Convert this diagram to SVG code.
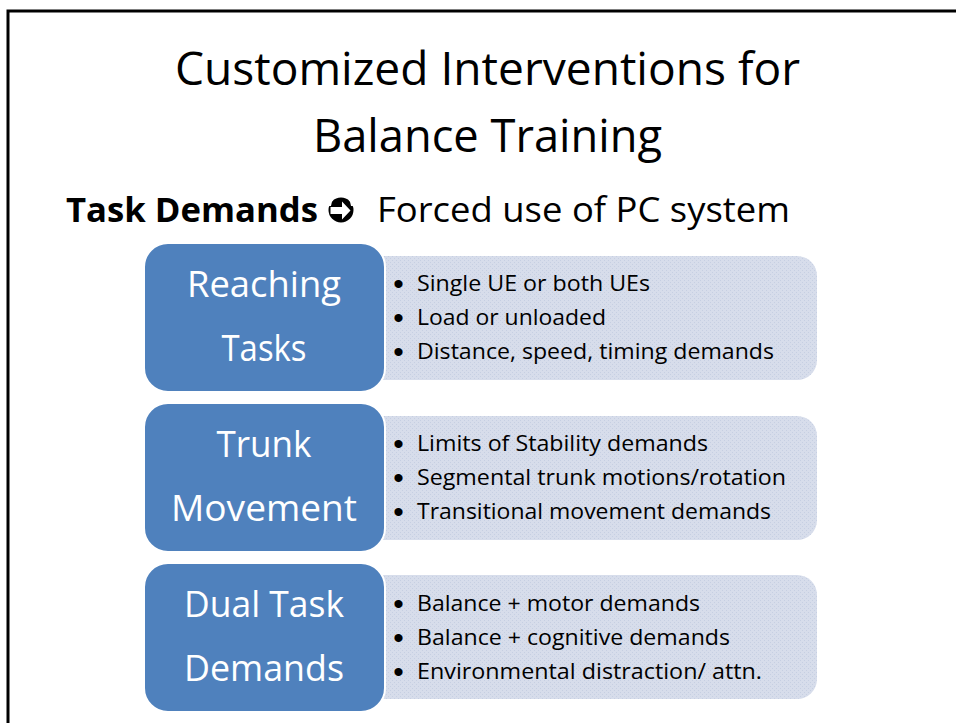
<svg xmlns="http://www.w3.org/2000/svg" width="956" height="723" viewBox="0 0 956 723">
<defs>
<pattern id="dots" width="4" height="4" patternUnits="userSpaceOnUse">
<rect width="4" height="4" fill="#D7DDEB"/>
<rect x="0" y="0" width="1" height="1" fill="#C6CFE2"/>
<rect x="2" y="2" width="1" height="1" fill="#C6CFE2"/>
</pattern>
</defs>
<style>
.title{font-family:"Open Sans","Noto Sans","Liberation Sans",sans-serif;font-size:45px;fill:#000;text-anchor:middle}
.sub{font-family:"Open Sans","Noto Sans","Liberation Sans",sans-serif;font-size:34px;fill:#000}
.head{font-family:"Open Sans","Noto Sans","Liberation Sans",sans-serif;font-size:36px;fill:#fff;text-anchor:middle}
.item{font-family:"Open Sans","Noto Sans","Liberation Sans",sans-serif;font-size:21px;fill:#000}
.bul{font-family:"Liberation Sans",sans-serif;font-size:30px;fill:#000;text-anchor:middle}
.blue{fill:#4F81BD;stroke:#fff;stroke-width:2}
.light{fill:url(#dots)}
.frame{stroke:#000;stroke-width:3;fill:none}
</style>
<rect width="956" height="723" fill="#fff"/>
<path class="frame" d="M8 723 V11 H956"/>
<g id="title">
<text class="title" x="487.5" y="85" textLength="625" lengthAdjust="spacingAndGlyphs">Customized Interventions for</text>
<text class="title" x="487.5" y="152" textLength="349" lengthAdjust="spacingAndGlyphs">Balance Training</text>
</g>
<g id="subheading">
<text class="sub" x="66" y="222" font-weight="bold" textLength="252" lengthAdjust="spacingAndGlyphs">Task Demands</text>
<g id="arrow-symbol">
<circle cx="341" cy="210" r="12.5" fill="#000"/>
<path d="M330 206 A11 11 0 0 1 352 206" fill="none" stroke="#fff" stroke-width="2"/>
<path d="M330.5 207 H342 V201.5 L350.5 210.5 L342 219.5 V214 H330.5 Z" fill="#fff"/>
</g>
<text class="sub" x="377" y="222" textLength="413" lengthAdjust="spacingAndGlyphs">Forced use of PC system</text>
</g>
<g id="connectors"></g>
<g id="reaching-details">
<rect class="light" x="360" y="256" width="457" height="124" rx="20"/>
<text class="bul" x="398.5" y="294">•</text><text class="item" x="417" y="291" textLength="233" lengthAdjust="spacingAndGlyphs">Single UE or both UEs</text>
<text class="bul" x="398.5" y="328">•</text><text class="item" x="417" y="325" textLength="189" lengthAdjust="spacingAndGlyphs">Load or unloaded</text>
<text class="bul" x="398.5" y="362">•</text><text class="item" x="417" y="359" textLength="357" lengthAdjust="spacingAndGlyphs">Distance, speed, timing demands</text>
</g>
<g id="reaching">
<rect class="blue" x="144" y="243" width="241" height="149" rx="24"/>
<text class="head" x="264" y="297" textLength="154" lengthAdjust="spacingAndGlyphs">Reaching</text>
<text class="head" x="264" y="361" textLength="85" lengthAdjust="spacingAndGlyphs">Tasks</text>
</g>
<g id="trunk-details">
<rect class="light" x="360" y="416" width="457" height="124" rx="20"/>
<text class="bul" x="398.5" y="454">•</text><text class="item" x="417" y="451" textLength="291" lengthAdjust="spacingAndGlyphs">Limits of Stability demands</text>
<text class="bul" x="398.5" y="488">•</text><text class="item" x="417" y="485" textLength="369" lengthAdjust="spacingAndGlyphs">Segmental trunk motions/rotation</text>
<text class="bul" x="398.5" y="522">•</text><text class="item" x="417" y="519" textLength="354" lengthAdjust="spacingAndGlyphs">Transitional movement demands</text>
</g>
<g id="trunk">
<rect class="blue" x="144" y="403" width="241" height="149" rx="24"/>
<text class="head" x="264" y="457" textLength="95" lengthAdjust="spacingAndGlyphs">Trunk</text>
<text class="head" x="264" y="521" textLength="186" lengthAdjust="spacingAndGlyphs">Movement</text>
</g>
<g id="dual-details">
<rect class="light" x="360" y="575" width="457" height="124" rx="20"/>
<text class="bul" x="398.5" y="614">•</text><text class="item" x="417" y="611" textLength="283" lengthAdjust="spacingAndGlyphs">Balance + motor demands</text>
<text class="bul" x="398.5" y="648">•</text><text class="item" x="417" y="645" textLength="313" lengthAdjust="spacingAndGlyphs">Balance + cognitive demands</text>
<text class="bul" x="398.5" y="682">•</text><text class="item" x="417" y="679" textLength="345" lengthAdjust="spacingAndGlyphs">Environmental distraction/ attn.</text>
</g>
<g id="dual">
<rect class="blue" x="144" y="563" width="241" height="149" rx="24"/>
<text class="head" x="264" y="617" textLength="160" lengthAdjust="spacingAndGlyphs">Dual Task</text>
<text class="head" x="264" y="681" textLength="160" lengthAdjust="spacingAndGlyphs">Demands</text>
</g>
</svg>
